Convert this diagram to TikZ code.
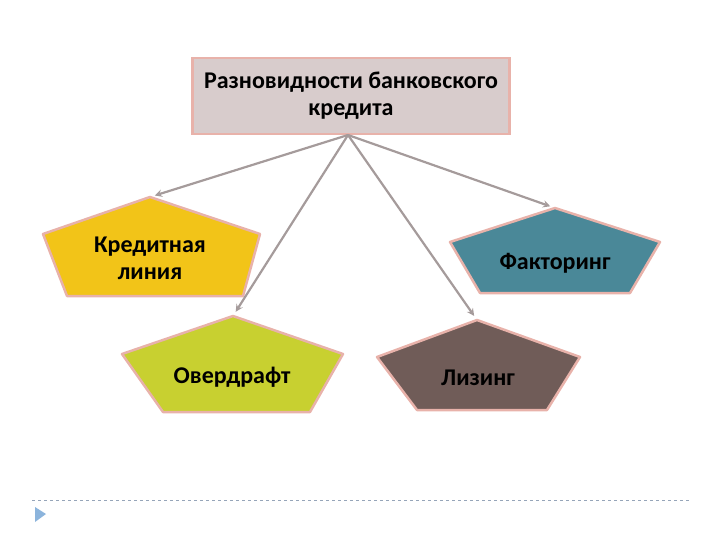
\documentclass[tikz,border=0pt]{standalone}
\usepackage{fontspec}
\setmainfont{Carlito}
\usetikzlibrary{arrows}

\definecolor{boxfill}{RGB}{216,204,204}
\definecolor{glow}{RGB}{232,178,170}
\definecolor{gold}{RGB}{242,196,24}
\definecolor{lime}{RGB}{200,208,48}
\definecolor{teal}{RGB}{74,136,152}
\definecolor{umber}{RGB}{112,92,88}
\definecolor{arrowgray}{RGB}{165,155,155}
\definecolor{rulegray}{RGB}{150,165,185}
\definecolor{tipblue}{RGB}{140,180,220}

\begin{document}
\begin{tikzpicture}[x=1pt, y=-1pt,
    label/.style={font=\bfseries\fontsize{24}{27}\selectfont, align=center},
    pent/.style={draw=glow, line width=2.5pt, line join=round}]
  \useasboundingbox (0,0) rectangle (720,540);

  % top box
  \node [label, rectangle, draw=glow, line width=2.5pt, fill=boxfill,
    minimum width=317pt, minimum height=76pt] (top) at (351,96)
    {Разновидности банковского\\кредита};

  % pentagons
  \filldraw [pent, fill=gold] (150,197) -- (260,234) -- (243,296)
    -- (67,296) -- (43,234) -- cycle;
  \node [label] (credit) at (150,258) {Кредитная\\линия};
  \coordinate (credit-top) at (150,197);

  \filldraw [pent, fill=lime] (233,316) -- (343,354) -- (310,412)
    -- (163,412) -- (122,354) -- cycle;
  \node [label] (over) at (232,377) {Овердрафт};
  \coordinate (over-top) at (233,316);

  \filldraw [pent, fill=teal] (555,208) -- (660,242) -- (630,293)
    -- (480,293) -- (450,242) -- cycle;
  \node [label] (factor) at (555,263) {Факторинг};
  \coordinate (factor-top) at (555,208);

  \filldraw [pent, fill=umber] (477,320) -- (580,357) -- (547,410)
    -- (417,410) -- (377,357) -- cycle;
  \node [label] (lease) at (478,378) {Лизинг};
  \coordinate (lease-top) at (477,320);

  % arrows
  \coordinate (hub) at (348,135);
  \begin{scope}[->, >=stealth, draw=arrowgray, line width=2.2pt,
      shorten >=5pt]
    \draw (hub) -- (credit-top);
    \draw (hub) -- (over-top);
    \draw (hub) -- (lease-top);
    \draw (hub) -- (factor-top);
  \end{scope}

  % footer rule
  \coordinate (ruleL) at (32,500);
  \coordinate (ruleR) at (690,500);
  \draw [rulegray, dashed, line width=0.8pt] (ruleL) -- (ruleR);
  \fill [tipblue] (35,507) -- (46,514) -- (35,522) -- cycle;
\end{tikzpicture}
\end{document}
